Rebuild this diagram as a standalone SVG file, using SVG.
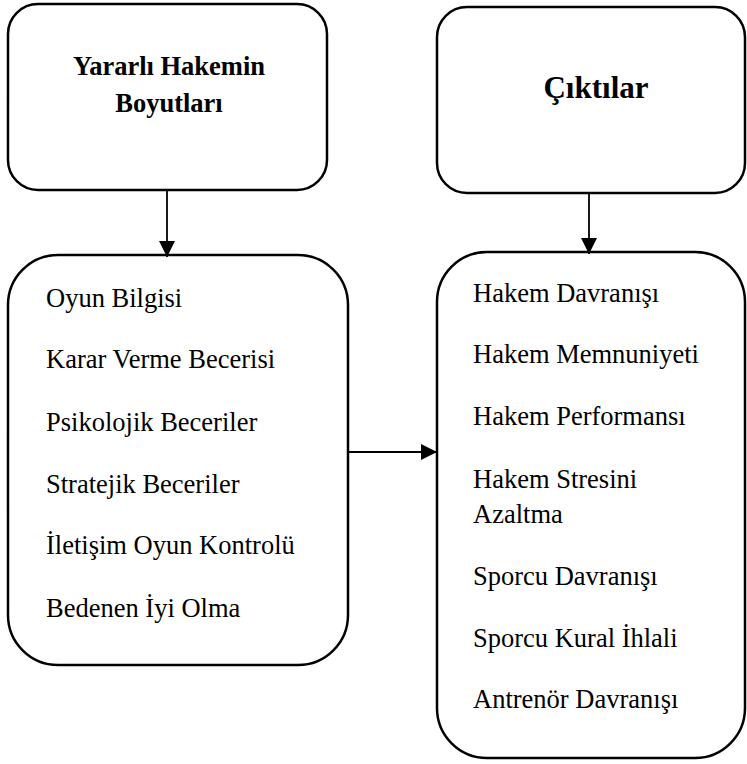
<svg xmlns="http://www.w3.org/2000/svg" width="747" height="764" viewBox="0 0 747 764">
  <style>
    .box { fill: #ffffff; stroke: #000000; stroke-width: 2.5; }
    .conn { stroke: #000000; stroke-width: 1.8; fill: none; }
    .head { font-weight: bold; fill: #000; }
    .item { font-size: 26.5px; fill: #000; }
  </style>
  <defs>
    <marker id="arrow" markerUnits="userSpaceOnUse" markerWidth="16" markerHeight="16" refX="16" refY="8" orient="auto">
      <path d="M0,0 L16,8 L0,16 z" fill="#000"/>
    </marker>
  </defs>
  <rect width="747" height="764" fill="#ffffff"/>

  <g font-family="Liberation Serif, Tinos, DejaVu Serif, serif">
  <g id="node-boyutlar">
    <rect class="box" x="8" y="4" width="319" height="186" rx="30" ry="30"/>
    <text class="head" x="169" y="75" font-size="26.5" text-anchor="middle">Yararlı Hakemin</text>
    <text class="head" x="169" y="112" font-size="26.5" text-anchor="middle">Boyutları</text>
  </g>

  <g id="node-ciktilar">
    <rect class="box" x="437" y="7" width="308" height="186" rx="30" ry="30"/>
    <text class="head" x="596" y="98" font-size="31" text-anchor="middle">Çıktılar</text>
  </g>

  <g id="node-boyut-listesi">
    <rect class="box" x="8" y="255" width="340" height="410" rx="50" ry="50"/>
    <text class="item" x="46" y="307">Oyun Bilgisi</text>
    <text class="item" x="46" y="368">Karar Verme Becerisi</text>
    <text class="item" x="46" y="431">Psikolojik Beceriler</text>
    <text class="item" x="46" y="493">Stratejik Beceriler</text>
    <text class="item" x="46" y="554">İletişim Oyun Kontrolü</text>
    <text class="item" x="46" y="617">Bedenen İyi Olma</text>
  </g>

  <g id="node-cikti-listesi">
    <rect class="box" x="437" y="252" width="308" height="506" rx="50" ry="50"/>
    <text class="item" x="473" y="302">Hakem Davranışı</text>
    <text class="item" x="473" y="363">Hakem Memnuniyeti</text>
    <text class="item" x="473" y="425">Hakem Performansı</text>
    <text class="item" x="473" y="488">Hakem Stresini</text>
    <text class="item" x="473" y="523">Azaltma</text>
    <text class="item" x="473" y="585">Sporcu Davranışı</text>
    <text class="item" x="473" y="647">Sporcu Kural İhlali</text>
    <text class="item" x="473" y="708">Antrenör Davranışı</text>
  </g>
  </g>

  <g id="connectors">
    <line class="conn" x1="167" y1="191" x2="167" y2="257" marker-end="url(#arrow)"/>
    <line class="conn" x1="589" y1="194" x2="589" y2="254" marker-end="url(#arrow)"/>
    <line class="conn" x1="349" y1="452" x2="437" y2="452" marker-end="url(#arrow)"/>
  </g>
</svg>
